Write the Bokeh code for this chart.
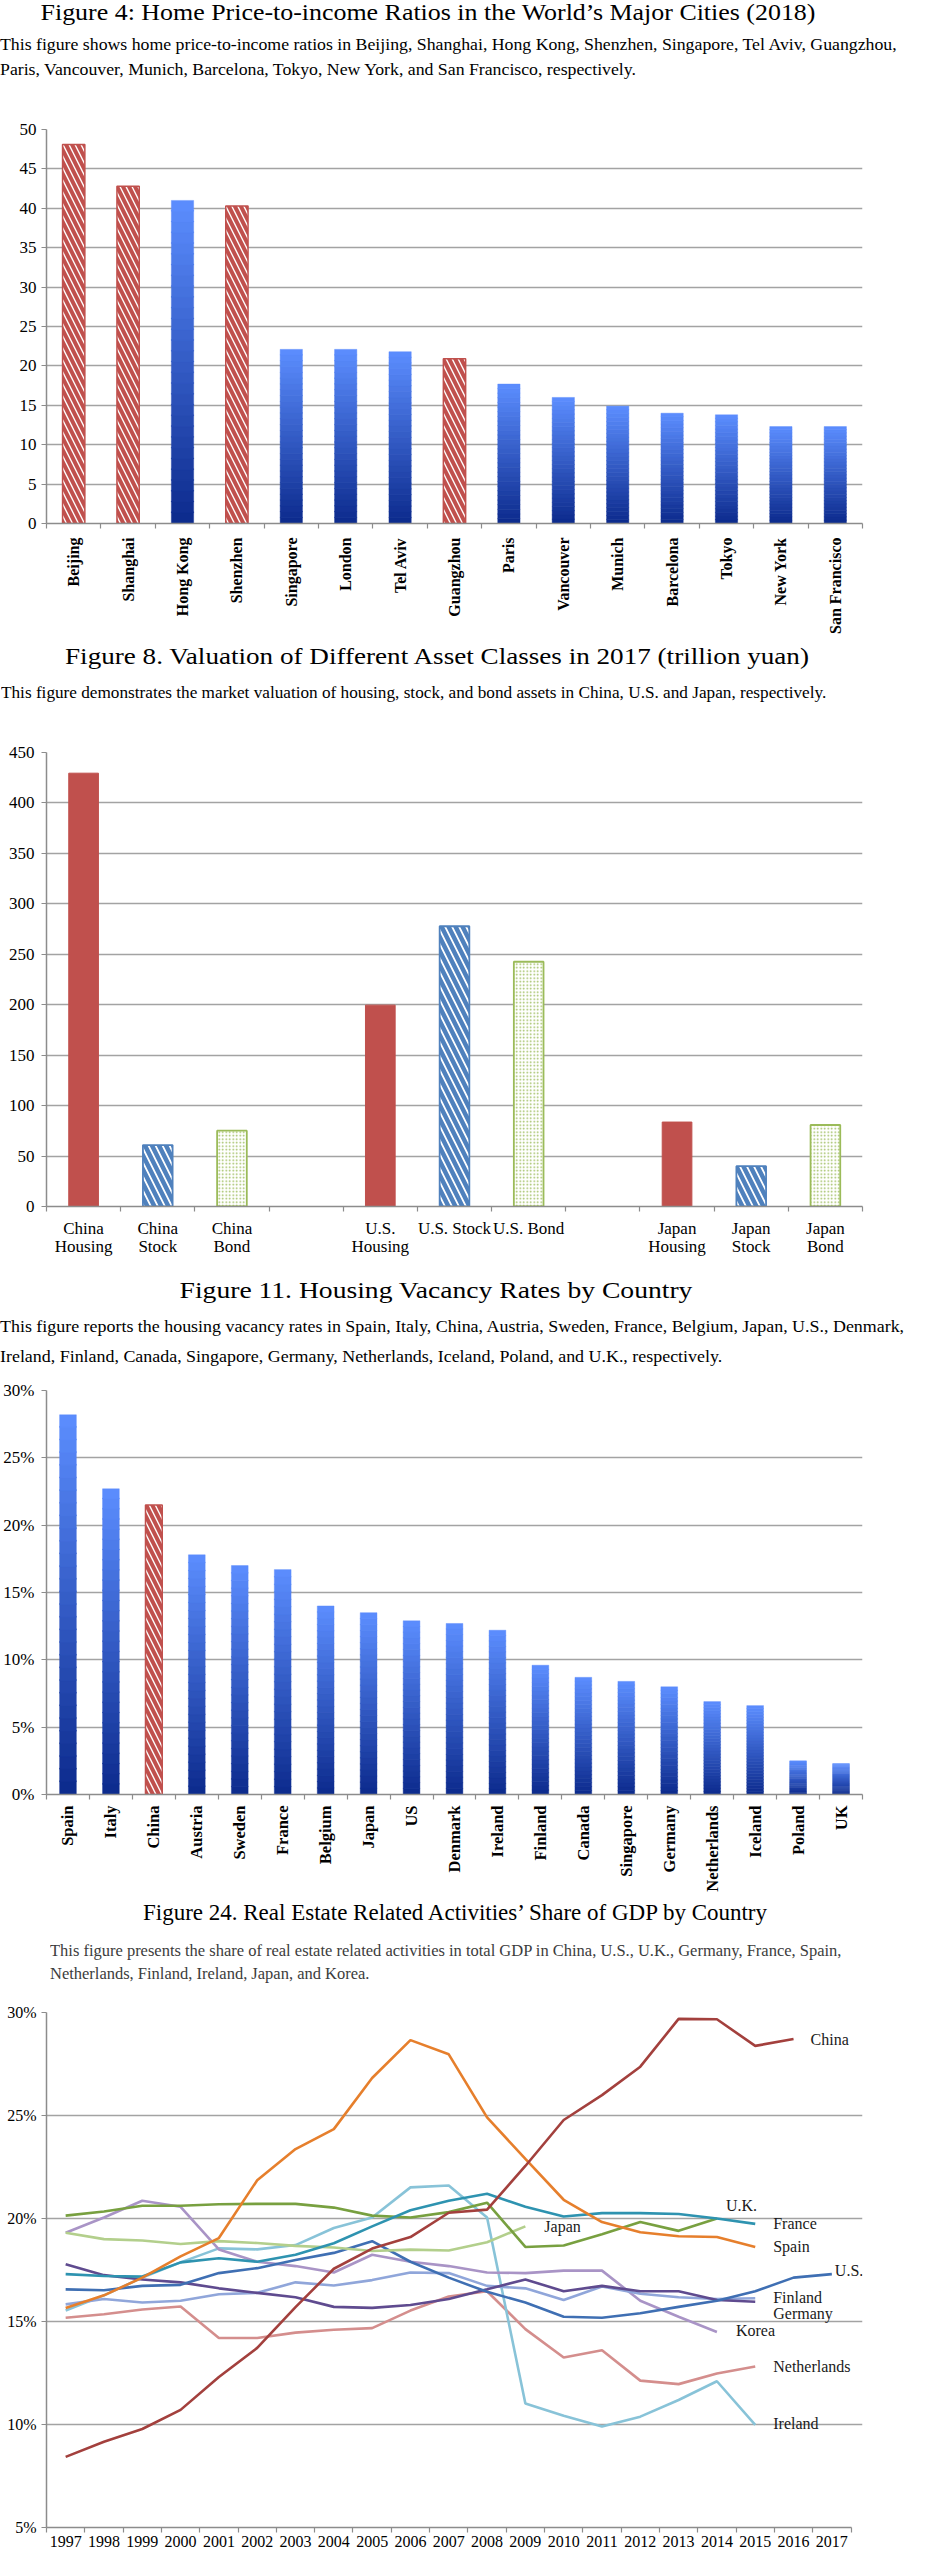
import numpy as np
from bokeh.plotting import figure
from bokeh.models import FixedTicker, ColumnDataSource, Div, LabelSet
from bokeh.layouts import column
from bokeh.embed import file_html
from bokeh.resources import INLINE
from bokeh.core.properties import value

SERIF = "Liberation Serif"

# ---------------- Figure 4 data ----------------
cities = ["Beijing", "Shanghai", "Hong Kong", "Shenzhen", "Singapore", "London", "Tel Aviv",
          "Guangzhou", "Paris", "Vancouver", "Munich", "Barcelona", "Tokyo", "New York", "San Francisco"]
price_to_income = [48.1, 42.8, 41.0, 40.3, 22.1, 22.1, 21.8, 20.9, 17.7, 16.0, 14.9, 14.0, 13.8, 12.3, 12.3]
city_in_china = [True, True, False, True, False, False, False, True,
                 False, False, False, False, False, False, False]

# ---------------- Figure 8 data ----------------
asset_labels = ["China\nHousing", "China\nStock", "China\nBond", "",
                "U.S.\nHousing", "U.S. Stock", "U.S. Bond", "",
                "Japan\nHousing", "Japan\nStock", "Japan\nBond"]
asset_class = ["Housing", "Stock", "Bond", None, "Housing", "Stock", "Bond", None, "Housing", "Stock", "Bond"]
asset_value = [429.5, 60.9, 75.2, None, 199.6, 277.8, 242.6, None, 83.7, 40.0, 80.8]

# ---------------- Figure 11 data ----------------
vacancy_countries = ["Spain", "Italy", "China", "Austria", "Sweden", "France", "Belgium", "Japan", "US",
                     "Denmark", "Ireland", "Finland", "Canada", "Singapore", "Germany", "Netherlands",
                     "Iceland", "Poland", "UK"]
vacancy_rate = [28.2, 22.7, 21.5, 17.8, 17.0, 16.7, 14.0, 13.5, 12.9, 12.7, 12.2, 9.6, 8.7, 8.4, 8.0,
                6.9, 6.6, 2.5, 2.3]
vacancy_is_china = [c == "China" for c in vacancy_countries]

# ---------------- Figure 24 data ----------------
years = list(range(1997, 2018))
share_china = [8.43, 9.16, 9.78, 10.71, 12.31, 13.72, 15.70, 17.56, 18.54, 19.10, 20.28, 20.43,
               22.55, 24.78, 25.99, 27.37, 29.69, 29.67, 28.38, 28.71]
share_spain = [15.66, 16.27, 17.13, 18.16, 19.05, 21.86, 23.37, 24.34, 26.82, 28.66, 27.97, 24.91,
               22.89, 20.91, 19.83, 19.33, 19.14, 19.10, 18.62]
share_ireland = [15.53, 16.27, 17.13, 17.87, 18.55, 18.50, 18.71, 19.54, 20.05, 21.51, 21.60, 20.05,
                 11.02, 10.42, 9.90, 10.38, 11.19, 12.10, 9.98]
share_france = [17.30, 17.21, 17.18, 17.87, 18.07, 17.90, 18.24, 18.80, 19.62, 20.40, 20.86, 21.20,
                20.57, 20.10, 20.26, 20.26, 20.22, 20.00, 19.74]
share_uk = [20.14, 20.34, 20.62, 20.62, 20.69, 20.71, 20.71, 20.53, 20.14, 20.05, 20.31, 20.77,
            18.62, 18.69, 19.24, 19.83, 19.40, 20.00]
share_japan = [19.31, 19.00, 18.93, 18.76, 18.90, 18.81, 18.67, 18.59, 18.42, 18.49, 18.45, 18.85, 19.62]
share_korea = [19.31, 20.05, 20.86, 20.57, 18.50, 17.90, 17.69, 17.38, 18.24, 17.90, 17.69, 17.38,
               17.35, 17.47, 17.47, 16.01, 15.23, 14.49]
share_us = [16.56, 16.52, 16.73, 16.78, 17.35, 17.59, 17.99, 18.33, 18.90, 17.90, 17.13, 16.44,
            15.92, 15.23, 15.18, 15.40, 15.71, 16.01, 16.47, 17.13, 17.30]
share_germany = [17.78, 17.25, 17.04, 16.90, 16.61, 16.39, 16.18, 15.71, 15.66, 15.80, 16.09, 16.56,
                 17.04, 16.47, 16.73, 16.47, 16.47, 16.04, 15.96]
share_finland = [15.83, 16.09, 15.92, 16.01, 16.32, 16.39, 16.90, 16.75, 17.01, 17.38, 17.35, 16.73,
                 16.61, 16.04, 16.70, 16.35, 16.18, 16.09, 16.13]
share_netherlands = [15.18, 15.35, 15.58, 15.73, 14.20, 14.20, 14.46, 14.60, 14.68, 15.53, 16.21, 16.47,
                     14.63, 13.25, 13.60, 12.13, 11.96, 12.48, 12.82]

# (name, values, colour, label x-offset px, label shift in % units)
series = [
    ("Netherlands", share_netherlands, "#D48E8D", 18, 0.0),
    ("Ireland", share_ireland, "#88C3D8", 18, 0.09),
    ("Korea", share_korea, "#A994C6", 19, 0.09),
    ("Finland", share_finland, "#90A6DA", 18, 0.05),
    ("Germany", share_germany, "#5F4B8F", 18, -0.55),
    ("U.S.", share_us, "#3F6FB3", 3, 0.17),
    ("Japan", share_japan, "#B3CF8C", 19, 0.0),
    ("U.K.", share_uk, "#78A040", 9, 0.65),
    ("France", share_france, "#2E93B0", 18, 0.0),
    ("Spain", share_spain, "#E67F2C", 18, 0.0),
    ("China", share_china, "#A3403D", 17, 0.0),
]

RED = "#C0504D"
BLUE = "#4F81BD"
GREEN = "#9BBB59"
GRID = "#A3A3A3"
AXIS = "#8C8C8C"


def header(height, title, title_top, title_cx, title_sx, lines, desc_top, desc_left, desc_size, desc_lh,
           desc_sx=1.0, desc_color="#000000", title_size=24):
    t = (f'<div style="position:absolute;left:0;top:{title_top}px;width:{2 * title_cx}px;'
         f'text-align:center;font-size:{title_size}px;line-height:1;white-space:nowrap;color:#000;'
         f'transform:scaleX({title_sx});transform-origin:50% 50%;">{title}</div>')
    d = (f'<div style="position:absolute;left:{desc_left}px;top:{desc_top}px;font-size:{desc_size}px;'
         f'line-height:{desc_lh}px;white-space:nowrap;color:{desc_color};'
         f'transform:scaleX({desc_sx});transform-origin:0 0;">' + "<br>".join(lines) + '</div>')
    html = (f'<div style="position:relative;width:910px;height:{height}px;'
            f'font-family:\'Liberation Serif\',serif;">' + t + d + '</div>')
    return Div(text=html, width=910, height=height, margin=0, styles={"overflow": "visible"})


def base_fig(height, left, right, top, bottom, xr, yr):
    p = figure(width=910, height=height, x_range=xr, y_range=yr, output_backend="svg",
               toolbar_location=None, tools="", min_border_left=left, min_border_right=right,
               min_border_top=top, min_border_bottom=bottom, margin=0)
    p.outline_line_color = None
    p.background_fill_color = "white"
    p.border_fill_color = "white"
    p.xgrid.grid_line_color = None
    p.ygrid.grid_line_color = GRID
    p.ygrid.grid_line_width = 1.6
    for ax in (p.xaxis[0], p.yaxis[0]):
        ax.axis_line_color = AXIS
        ax.axis_line_width = 1.5
        ax.major_tick_line_color = AXIS
        ax.minor_tick_line_color = AXIS
        ax.major_tick_line_width = 1.2
        ax.minor_tick_line_width = 1.2
        ax.major_label_text_font = SERIF
        ax.major_label_text_color = "#000000"
    p.yaxis.minor_tick_line_color = None
    p.yaxis.major_tick_in = 0
    p.yaxis.major_tick_out = 5
    return p


def category_xaxis(p, labels):
    n = len(labels)
    p.xaxis.ticker = FixedTicker(ticks=list(range(n)), minor_ticks=[i - 0.5 for i in range(n + 1)])
    p.xaxis.major_label_overrides = {i: lab for i, lab in enumerate(labels)}
    p.xaxis.major_tick_line_color = None
    p.xaxis.minor_tick_in = 0
    p.xaxis.minor_tick_out = 5


def gradient_bars(p, xs, vals, width, n=30, dark=(12, 42, 140), light=(92, 142, 255)):
    bx, bb, bt, bc = [], [], [], []
    for x, v in zip(xs, vals):
        for i in range(n):
            t = (i + 0.5) / n
            c = tuple(int(round(d + (l - d) * t)) for d, l in zip(dark, light))
            bx.append(x)
            bb.append(v * i / n)
            bt.append(min(v, v * (i + 1) / n + v * 0.003))
            bc.append("#%02x%02x%02x" % c)
    src = ColumnDataSource(dict(x=bx, bottom=bb, top=bt, color=bc))
    p.vbar(x="x", bottom="bottom", top="top", width=width, fill_color="color",
           line_color="color", line_width=0.4, source=src)


def hatched_bars(p, xs, vals, width, color):
    p.vbar(x=xs, top=vals, width=width, fill_color="white", line_color=color, line_width=1.5,
           hatch_pattern="left_diagonal_line", hatch_color=color, hatch_scale=12, hatch_weight=4)


# ================= Figure 4 =================
div1 = header(80, "Figure 4: Home Price-to-income Ratios in the World\u2019s Major Cities (2018)", 0, 428, 1.08,
              ["This figure shows home price-to-income ratios in Beijing, Shanghai, Hong Kong, Shenzhen, "
               "Singapore, Tel Aviv, Guangzhou,",
               "Paris, Vancouver, Munich, Barcelona, Tokyo, New York, and San Francisco, respectively."],
              32.0, 0, 16, 25, desc_sx=1.11)

n1 = len(cities)
p1 = base_fig(556, 27, 39, 49, 108, (-0.5, n1 - 0.5), (0, 50))
category_xaxis(p1, cities)
p1.xaxis.major_label_orientation = np.pi / 2
p1.xaxis.major_label_text_font_size = "16px"
p1.xaxis.major_label_text_font_style = "bold"
p1.xaxis.major_label_standoff = 8
p1.yaxis.ticker = FixedTicker(ticks=list(range(0, 51, 5)))
p1.yaxis.major_label_text_font_size = "17px"
p1.yaxis.major_label_standoff = 5
blue_x = [i for i, c in enumerate(city_in_china) if not c]
gradient_bars(p1, blue_x, [price_to_income[i] for i in blue_x], 0.41)
red_x = [i for i, c in enumerate(city_in_china) if c]
hatched_bars(p1, red_x, [price_to_income[i] for i in red_x], 0.41, RED)

# ================= Figure 8 =================
div2 = header(102, "Figure 8. Valuation of Different Asset Classes in 2017 (trillion yuan)", 7.9, 437, 1.13,
              ["This figure demonstrates the market valuation of housing, stock, and bond assets in China, "
               "U.S. and Japan, respectively."],
              48.6, 1, 16, 16, desc_sx=1.075)

n2 = len(asset_labels)
p2 = base_fig(520, 38, 38, 14, 45, (-0.5, n2 - 0.5), (0, 450))
category_xaxis(p2, asset_labels)
p2.xaxis.major_label_text_font_size = "17px"
p2.xaxis.major_label_text_line_height = 0.95
p2.xaxis.major_label_standoff = 6
p2.yaxis.ticker = FixedTicker(ticks=list(range(0, 451, 50)))
p2.yaxis.major_label_text_font_size = "17px"
p2.yaxis.major_label_standoff = 7


def by_class(k):
    xs = [i for i, c in enumerate(asset_class) if c == k]
    return xs, [asset_value[i] for i in xs]


hx, hv = by_class("Housing")
p2.vbar(x=hx, top=hv, width=0.4, fill_color=RED, line_color=RED, line_width=1)
sx, sv = by_class("Stock")
p2.vbar(x=sx, top=sv, width=0.4, fill_color="white", line_color=BLUE, line_width=1.8,
        hatch_pattern="left_diagonal_line", hatch_color=BLUE, hatch_scale=14, hatch_weight=4.5)
bx, bv = by_class("Bond")
p2.vbar(x=bx, top=bv, width=0.4, fill_color="white", line_color=GREEN, line_width=1.8,
        hatch_pattern="dot", hatch_color=GREEN, hatch_scale=3.5, hatch_weight=1.3)

# ================= Figure 11 =================
div3 = header(118, "Figure 11. Housing Vacancy Rates by Country", 19.9, 436, 1.15,
              ["This figure reports the housing vacancy rates in Spain, Italy, China, Austria, Sweden, France, "
               "Belgium, Japan, U.S., Denmark,",
               "Ireland, Finland, Canada, Singapore, Germany, Netherlands, Iceland, Poland, and U.K., respectively."],
              53.6, 0, 16, 30, desc_sx=1.12)

n3 = len(vacancy_countries)
p3 = base_fig(518, 46, 48, 14, 92, (-0.5, n3 - 0.5), (0, 30))
category_xaxis(p3, vacancy_countries)
p3.xaxis.major_label_orientation = np.pi / 2
p3.xaxis.major_label_text_font_size = "16.5px"
p3.xaxis.major_label_text_font_style = "bold"
p3.xaxis.major_label_standoff = 5
yt3 = list(range(0, 31, 5))
p3.yaxis.ticker = FixedTicker(ticks=yt3)
p3.yaxis.major_label_overrides = {v: f"{v}%" for v in yt3}
p3.yaxis.major_label_text_font_size = "17px"
p3.yaxis.major_label_standoff = 7
vb = [i for i, c in enumerate(vacancy_is_china) if not c]
gradient_bars(p3, vb, [vacancy_rate[i] for i in vb], 0.39)
vr = [i for i, c in enumerate(vacancy_is_china) if c]
hatched_bars(p3, vr, [vacancy_rate[i] for i in vr], 0.39, RED)

# ================= Figure 24 =================
div4 = header(98, "Figure 24. Real Estate Related Activities\u2019 Share of GDP by Country", 6.7, 455, 1.0,
              ["This figure presents the share of real estate related activities in total GDP in China, U.S., "
               "U.K., Germany, France, Spain,",
               "Netherlands, Finland, Ireland, Japan, and Korea."],
              45.1, 50, 16, 23, desc_sx=1.03, desc_color="#3C3C3C", title_size=23)

# a little room on the right of 2017 so the end labels are not clipped by the frame
p4 = base_fig(557, 40, 2, 20, 20, (years[0] - 0.5, years[-1] + 0.8), (5, 30))
p4.xaxis.ticker = FixedTicker(ticks=years, minor_ticks=[y - 0.5 for y in years] + [years[-1] + 0.5])
p4.xaxis.bounds = (years[0] - 0.5, years[-1] + 0.5)
p4.xaxis.major_label_overrides = {y: str(y) for y in years}
p4.xaxis.major_tick_line_color = None
p4.xaxis.minor_tick_in = 0
p4.xaxis.minor_tick_out = 5
p4.xaxis.major_label_standoff = 2
p4.xaxis.major_label_text_font_size = "16px"
yt4 = list(range(5, 31, 5))
p4.yaxis.ticker = FixedTicker(ticks=yt4)
p4.yaxis.major_label_overrides = {v: f"{v}%" for v in yt4}
p4.yaxis.major_label_text_font_size = "16px"
p4.yaxis.major_label_standoff = 5
p4.ygrid.grid_line_width = 1.4

lab_x, lab_y, lab_t, lab_dx = [], [], [], []
for name, vals, col, dx, shift in series:
    yrs = years[:len(vals)]
    p4.line(yrs, vals, line_color=col, line_width=2.6)
    lab_x.append(yrs[-1])
    lab_y.append(vals[-1] + shift)
    lab_t.append(name)
    lab_dx.append(dx)

lsrc = ColumnDataSource(dict(x=lab_x, y=lab_y, text=lab_t, dx=lab_dx))
p4.add_layout(LabelSet(x="x", y="y", text="text", x_offset="dx", source=lsrc,
                       text_font=value(SERIF), text_font_size="16px", text_color="#1A1A1A",
                       text_align="left", text_baseline="middle"))

layout = column(div1, p1, div2, p2, div3, p3, div4, p4, spacing=0, margin=0)

with open("out.html", "w") as f:
    f.write(file_html(layout, INLINE, title="Figures"))
